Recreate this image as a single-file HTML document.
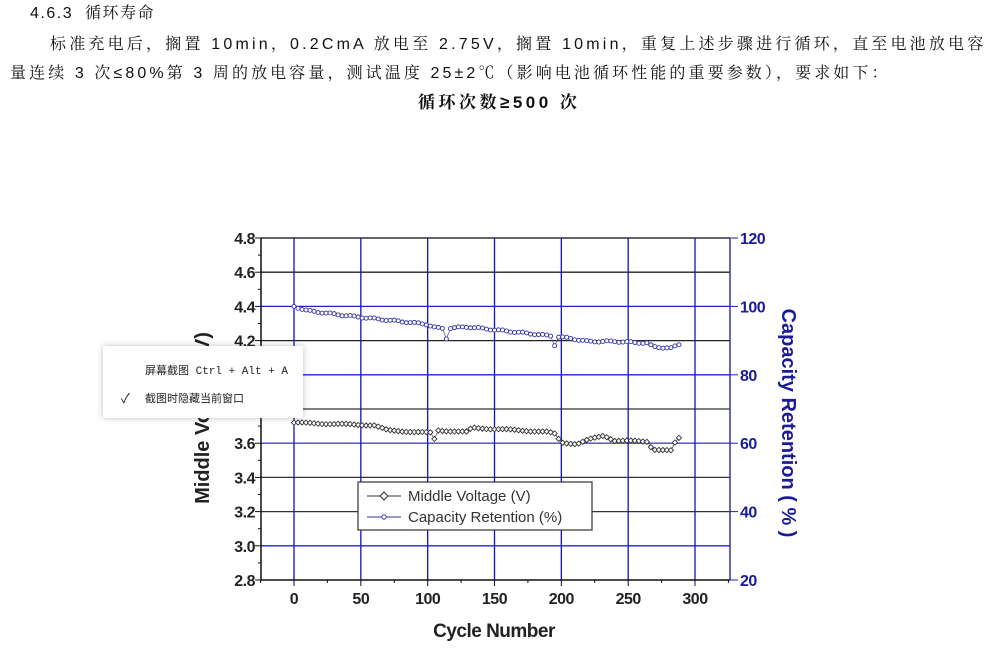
<!DOCTYPE html>
<html><head><meta charset="utf-8"><style>
body{margin:0;width:1000px;height:650px;background:#fff;position:relative;overflow:hidden;font-family:"Liberation Sans","Noto Serif CJK SC",serif;color:#111}
.t{position:absolute;font-size:16px;white-space:nowrap;line-height:20px}
.menu{position:absolute;left:103px;top:346px;width:200px;height:72px;background:#fff;box-shadow:0 0 6px rgba(0,0,0,.25);font-family:"Liberation Mono","Noto Sans CJK SC",monospace;font-size:11px;color:#222}
</style></head><body>
<div class="t" style="left:30px;top:4px;letter-spacing:1.5px">4.6.3&nbsp; 循环寿命</div>
<div class="t" style="left:50px;top:35px;letter-spacing:3.2px">标准充电后，搁置 10min，0.2CmA 放电至 2.75V，搁置 10min，重复上述步骤进行循环，直至电池放电容</div>
<div class="t" style="left:10px;top:64px;letter-spacing:3.1px">量连续 3 次≤80%第 3 周的放电容量，测试温度 25±2℃（影响电池循环性能的重要参数），要求如下：</div>
<div class="t" style="left:418px;top:93px;letter-spacing:3.5px;font-size:17px;font-weight:bold">循环次数≥500 次</div>
<svg id="c" width="1000" height="650" style="position:absolute;left:0;top:0" font-family="Liberation Sans,sans-serif"></svg>
<div class="menu"><div style="position:absolute;left:42px;top:16px">屏幕截图 Ctrl + Alt + A</div><div style="position:absolute;left:18px;top:42px;font-size:13px">✓</div><div style="position:absolute;left:42px;top:44px">截图时隐藏当前窗口</div></div>
<script>
var s='';
function X(v){return 294+v*(401/300);}
function Y(v){return 238+(4.8-v)*171;}
var L=261,R=730,T=238,B=580;
var hs=[[4.6,'#222'],[4.4,'#22c'],[4.2,'#222'],[4.0,'#22c'],[3.8,'#333'],[3.6,'#44c'],[3.4,'#333'],[3.2,'#333'],[3.0,'#22c']];
hs.forEach(function(h){s+='<line x1="'+L+'" x2="'+R+'" y1="'+Y(h[0])+'" y2="'+Y(h[0])+'" stroke="'+h[1]+'" stroke-width="1.3"/>';});
for(var v=0;v<=300;v+=50)s+='<line x1="'+X(v)+'" x2="'+X(v)+'" y1="'+T+'" y2="'+B+'" stroke="#11c" stroke-width="1.3"/>';
s+='<line x1="'+L+'" x2="'+R+'" y1="'+T+'" y2="'+T+'" stroke="#333" stroke-width="1.5"/>';
s+='<line x1="'+L+'" x2="'+R+'" y1="'+B+'" y2="'+B+'" stroke="#111" stroke-width="1.5"/>';
s+='<line x1="'+L+'" x2="'+L+'" y1="'+T+'" y2="'+B+'" stroke="#111" stroke-width="1.5"/>';
s+='<line x1="'+R+'" x2="'+R+'" y1="'+T+'" y2="'+B+'" stroke="#33a" stroke-width="1.5"/>';
for(var i=0;i<=20;i++){var y=T+i*17.1;s+='<line x1="'+(L-(i%2?3:6))+'" x2="'+L+'" y1="'+y+'" y2="'+y+'" stroke="#111"/>';}
for(var i=0;i<=10;i++){var v=(4.8-i*0.2).toFixed(1);s+='<text x="'+(L-6)+'" y="'+(T+i*34.2+6)+'" text-anchor="end" font-size="16" font-weight="bold" fill="#222" letter-spacing="-0.5">'+v+'</text>';}
for(var i=0;i<=5;i++){var y=T+i*68.4;s+='<line x1="'+R+'" x2="'+(R+8)+'" y1="'+y+'" y2="'+y+'" stroke="#22a"/>';s+='<text x="'+(R+10)+'" y="'+(y+6)+'" font-size="16" font-weight="bold" fill="#1a1a9a" letter-spacing="-0.5">'+(120-i*20)+'</text>';}
for(var v=-25;v<=325;v+=25){var x=X(v);s+='<line x1="'+x+'" x2="'+x+'" y1="'+B+'" y2="'+(B+(v%50?3:6))+'" stroke="#111"/>';}
for(var v=0;v<=300;v+=50)s+='<text x="'+X(v)+'" y="'+(B+24)+'" text-anchor="middle" font-size="16" font-weight="bold" fill="#222" letter-spacing="-0.5">'+v+'</text>';
s+='<text x="494" y="637" text-anchor="middle" font-size="19" font-weight="bold" fill="#222" letter-spacing="-0.5">Cycle Number</text>';
s+='<text transform="translate(209,418) rotate(-90)" text-anchor="middle" font-size="20" font-weight="bold" fill="#222">Middle Voltage (V)</text>';
s+='<text transform="translate(782,423) rotate(90)" text-anchor="middle" font-size="20" font-weight="bold" fill="#1a1a9a">Capacity Retention ( % )</text>';
function interp(k,x){for(var i=0;i<k.length-1;i++){if(x>=k[i][0]&&x<=k[i+1][0]){var t=(x-k[i][0])/(k[i+1][0]-k[i][0]);return k[i][1]+t*(k[i+1][1]-k[i][1]);}}return k[k.length-1][1];}
var cap=[[0,4.40],[10,4.375],[40,4.345],[100,4.295],[104,4.28],[110,4.27],[130,4.28],[160,4.255],[195,4.225],[205,4.215],[220,4.195],[240,4.195],[265,4.185],[268,4.165],[282,4.155],[290,4.185]];
var vol=[[0,3.72],[60,3.705],[70,3.675],[104,3.66],[108,3.675],[130,3.665],[133,3.69],[170,3.675],[190,3.665],[195,3.655],[200,3.605],[212,3.595],[220,3.62],[232,3.645],[240,3.615],[265,3.61],[268,3.565],[283,3.555],[286,3.625],[290,3.635]];
var cp='',vp='',cm='',vm='';
for(var x=0;x<=290;x+=3){var yc=Y(interp(cap,x)+Math.sin(x*1.7)*0.004),yv=Y(interp(vol,x)+Math.sin(x*2.3)*0.003);
if(x==114)yc=Y(4.21);if(x==195)yc=Y(4.17);if(x==105)yv=Y(3.625);
var px=X(x);cp+=px+','+yc+' ';vp+=px+','+yv+' ';
cm+='<circle cx="'+px+'" cy="'+yc+'" r="2" fill="#fff" stroke="#33a" stroke-width="0.9"/>';
vm+='<path d="M'+(px-2.6)+' '+yv+'l2.6 -2.6l2.6 2.6l-2.6 2.6z" fill="#fff" stroke="#333" stroke-width="0.9"/>';}
s+='<polyline points="'+cp+'" fill="none" stroke="#33a" stroke-width="0.6"/>'+cm;
s+='<polyline points="'+vp+'" fill="none" stroke="#333" stroke-width="0.6"/>'+vm;
s+='<rect x="358" y="482" width="234" height="48" fill="#fff" stroke="#333" stroke-width="1.2"/>';
s+='<line x1="367" x2="401" y1="496" y2="496" stroke="#333"/><path d="M380 496l4 -4l4 4l-4 4z" fill="#fff" stroke="#333"/>';
s+='<line x1="367" x2="401" y1="517" y2="517" stroke="#33a"/><circle cx="384" cy="517" r="2.2" fill="#fff" stroke="#33a"/>';
s+='<text x="408" y="501" font-size="15" fill="#333">Middle Voltage (V)</text>';
s+='<text x="408" y="522" font-size="15" fill="#333">Capacity Retention (%)</text>';
document.getElementById('c').innerHTML=s;
</script>
</body></html>
